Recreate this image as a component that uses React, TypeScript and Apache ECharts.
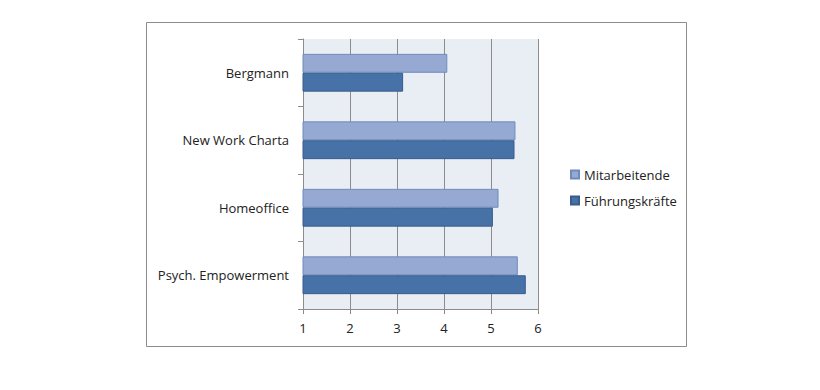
import React, { useEffect, useRef } from "react";
import * as echarts from "echarts";

const categories = ["Bergmann", "New Work Charta", "Homeoffice", "Psych. Empowerment"];
const mitarbeitende = [4.07, 5.52, 5.16, 5.57];
const fuehrungskraefte = [3.13, 5.5, 5.04, 5.74];
const seriesNames = ["Mitarbeitende", "Führungskräfte"];

const FONT = "'Open Sans', 'Noto Sans', sans-serif";

export default function App() {
  const ref = useRef<HTMLDivElement>(null);
  useEffect(() => {
    const chart = echarts.init(ref.current!, null, { renderer: "svg" });
    chart.setOption({
      animation: false,
      backgroundColor: "#ffffff",
      textStyle: { fontFamily: FONT },
      graphic: [
        {
          type: "rect",
          shape: { x: 146.5, y: 22.5, width: 540, height: 324 },
          style: { fill: "none", stroke: "#8c8c8c", lineWidth: 1 },
          z: -1,
        },
      ],
      grid: {
        left: 303,
        top: 39,
        width: 235,
        height: 270,
        show: true,
        backgroundColor: "#e9edf4",
        borderWidth: 0,
      },
      legend: {
        orient: "vertical",
        left: 565,
        top: 163,
        itemWidth: 8,
        itemHeight: 8,
        itemGap: 13,
        icon: "rect",
        textStyle: { fontFamily: FONT, fontSize: 13, color: "#222" },
        data: seriesNames,
      },
      xAxis: {
        type: "value",
        min: 1,
        max: 6,
        interval: 1,
        axisLine: { show: true, lineStyle: { color: "#8c8c8c" } },
        axisTick: { show: true, length: 5, lineStyle: { color: "#8c8c8c" } },
        splitLine: { show: true, lineStyle: { color: "#8c8c8c" } },
        axisLabel: { fontFamily: FONT, fontSize: 13, color: "#222", margin: 12 },
      },
      yAxis: {
        type: "category",
        data: categories,
        inverse: true,
        axisLine: { show: true, lineStyle: { color: "#8c8c8c" } },
        axisTick: { show: true, length: 5, lineStyle: { color: "#8c8c8c" } },
        axisLabel: { fontFamily: FONT, fontSize: 13, color: "#222", margin: 14 },
      },
      series: [
        {
          name: seriesNames[0],
          type: "bar",
          data: mitarbeitende,
          barGap: "0%",
          barCategoryGap: "44%",
          itemStyle: { color: "#95a9d2", borderColor: "#6f8bbd", borderWidth: 1 },
        },
        {
          name: seriesNames[1],
          type: "bar",
          data: fuehrungskraefte,
          barGap: "0%",
          barCategoryGap: "44%",
          itemStyle: { color: "#4672a8", borderColor: "#385d8c", borderWidth: 1 },
        },
      ],
    });
    return () => chart.dispose();
  }, []);
  return (
    <div
      ref={ref}
      style={{ position: "fixed", left: 0, top: 0, width: 820, height: 390 }}
    />
  );
}
